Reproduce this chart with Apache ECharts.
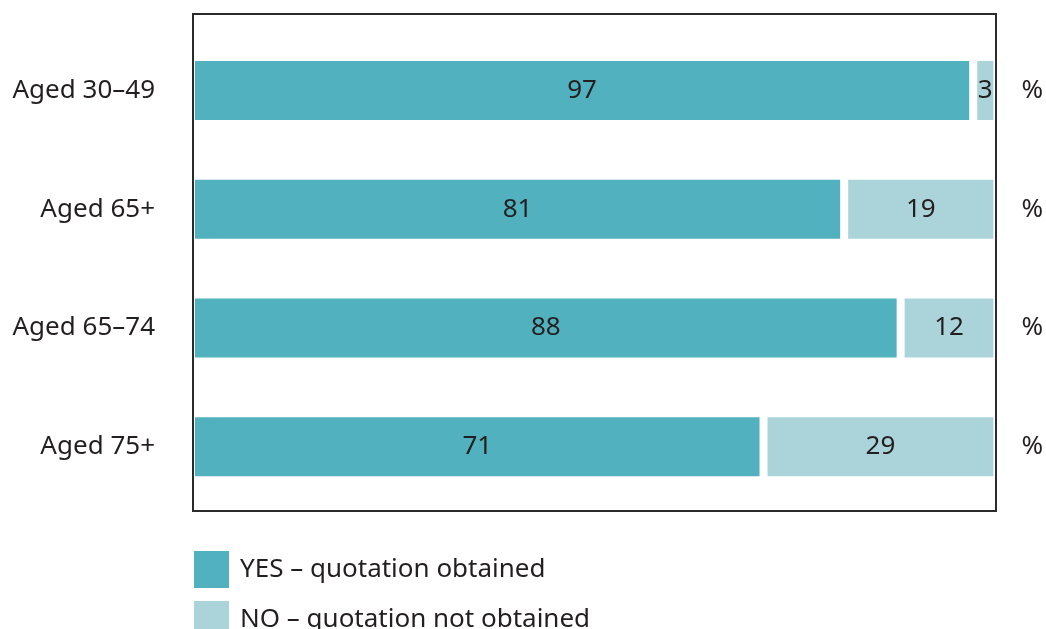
<!DOCTYPE html>
<html>
<head>
<meta charset="utf-8">
<script src="https://cdn.jsdelivr.net/npm/echarts@6/dist/echarts.min.js"></script>
<style>html,body{margin:0;padding:0;background:#fff}#c{width:1046px;height:629px}</style>
</head>
<body>
<div id="c"></div>
<script>
var categories = ['Aged 30–49', 'Aged 65+', 'Aged 65–74', 'Aged 75+'];
var yesValues = [97, 81, 88, 71];
var noValues = [3, 19, 12, 29];
var seriesNames = ['YES – quotation obtained', 'NO – quotation not obtained'];
var unitLabel = '%';

var chart = echarts.init(document.getElementById('c'), null, {renderer: 'canvas'});
var font = 'Noto Sans';
var textColor = '#231f20';
var fs = 26;
var legendText = {fontFamily: font, fontSize: fs, color: textColor, padding: [0, 0, 0, 5]};
chart.setOption({
  animation: false,
  textStyle: {fontFamily: font},
  grid: [
    {left: 191, right: 48, top: 31, bottom: 123},
    {left: 193, right: 50, top: 14, bottom: 118, show: true, z: 20, borderColor: '#2b2b2b', borderWidth: 2, backgroundColor: 'transparent'}
  ],
  legend: [
    {orient: 'vertical', left: 192, top: 549, itemWidth: 37, itemHeight: 39, padding: 0,
     icon: 'rect', data: [seriesNames[0]], textStyle: legendText},
    {orient: 'vertical', left: 192, top: 599, itemWidth: 37, itemHeight: 39, padding: 0,
     icon: 'rect', data: [seriesNames[1]], textStyle: legendText}
  ],
  xAxis: [
    {type: 'value', min: 0, max: 100, show: false, gridIndex: 0},
    {type: 'value', min: 0, max: 1, show: false, gridIndex: 1}
  ],
  yAxis: [
    {type: 'category', data: categories, inverse: true, gridIndex: 0,
     axisLine: {show: false}, axisTick: {show: false}, splitLine: {show: false},
     axisLabel: {fontFamily: font, fontSize: fs, color: textColor, margin: 36}},
    {type: 'category', data: categories, inverse: true, position: 'right', gridIndex: 0,
     axisLine: {show: false}, axisTick: {show: false}, splitLine: {show: false},
     axisLabel: {fontFamily: font, fontSize: fs, color: textColor, margin: 24, formatter: function(){return unitLabel;}}},
    {type: 'value', min: 0, max: 1, show: false, gridIndex: 1}
  ],
  series: [
    {name: seriesNames[0], type: 'bar', stack: 's', data: yesValues, barWidth: 67,
     itemStyle: {color: '#52b1be', borderColor: '#fff', borderWidth: 4},
     label: {show: true, position: 'inside', fontFamily: font, fontSize: fs, color: textColor}},
    {name: seriesNames[1], type: 'bar', stack: 's', data: noValues, barWidth: 67,
     itemStyle: {color: '#abd4da', borderColor: '#fff', borderWidth: 4},
     label: {show: true, position: 'inside', fontFamily: font, fontSize: fs, color: textColor}}
  ]
});
</script>
</body>
</html>
